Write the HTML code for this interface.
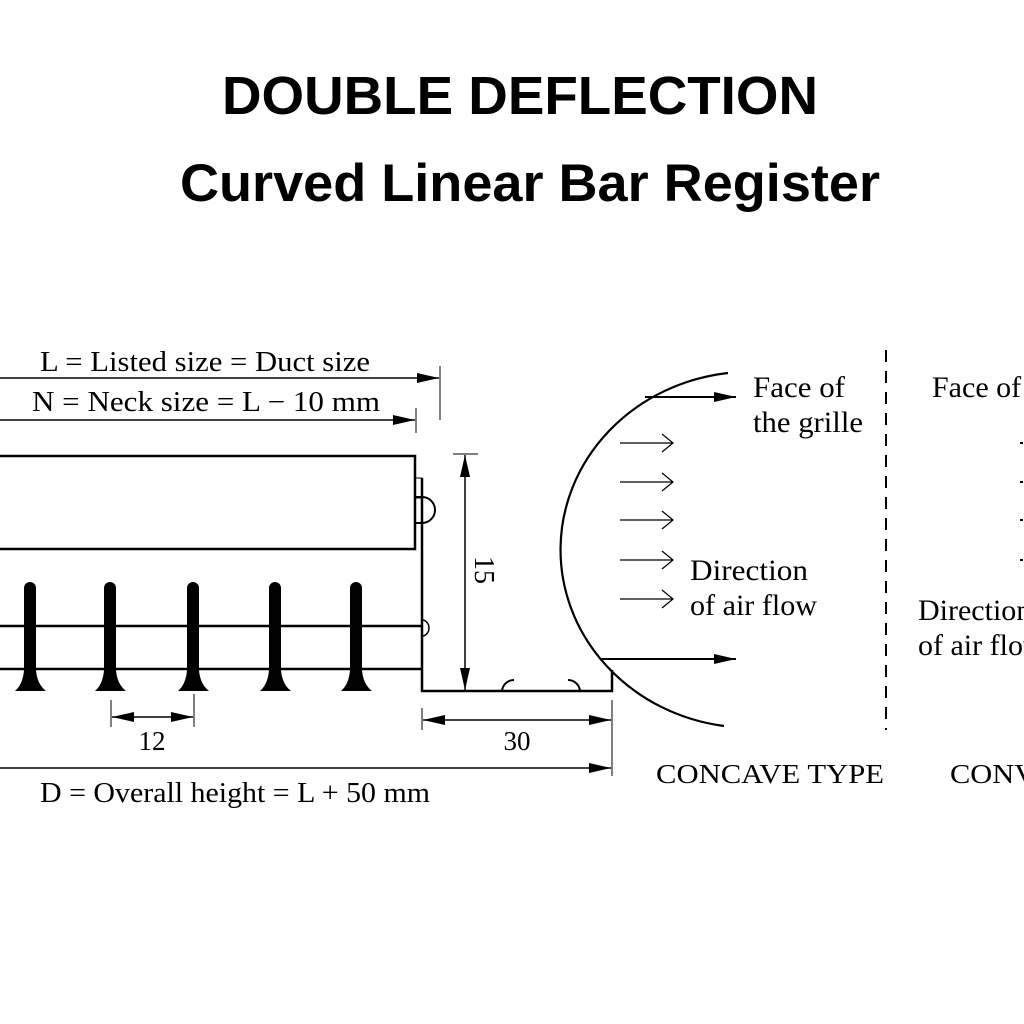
<!DOCTYPE html>
<html><head><meta charset="utf-8"><style>
html,body{margin:0;padding:0;background:#fff;width:1024px;height:1024px;overflow:hidden}
svg{display:block}
.s{font-family:"Liberation Serif",serif;fill:#000}
</style></head><body>
<svg width="1024" height="1024" viewBox="0 0 1024 1024" xmlns="http://www.w3.org/2000/svg">
<defs>
<marker id="a" markerWidth="22" markerHeight="10" refX="22" refY="5" orient="auto" markerUnits="userSpaceOnUse"><path d="M0,0 L22,5 L0,10 Z" fill="#000"/></marker>
<marker id="b" markerWidth="22" markerHeight="10" refX="22" refY="5" orient="auto-start-reverse" markerUnits="userSpaceOnUse"><path d="M0,0 L22,5 L0,10 Z" fill="#000"/></marker>
</defs>
<text x="520" y="114" text-anchor="middle" font-family="Liberation Sans,sans-serif" font-weight="bold" font-size="54" textLength="596" lengthAdjust="spacingAndGlyphs">DOUBLE DEFLECTION</text>
<text x="530" y="201" text-anchor="middle" font-family="Liberation Sans,sans-serif" font-weight="bold" font-size="53" textLength="700" lengthAdjust="spacingAndGlyphs">Curved Linear Bar Register</text>

<g stroke="#000" fill="none">
<line x1="0" y1="378" x2="439" y2="378" stroke-width="1.5" marker-end="url(#a)"/>
<line x1="440" y1="366" x2="440" y2="420" stroke-width="1"/>
<line x1="0" y1="420" x2="415" y2="420" stroke-width="1.5" marker-end="url(#a)"/>
<line x1="416" y1="408" x2="416" y2="433" stroke-width="1"/>
<rect x="-5" y="456" width="420" height="93" stroke-width="2.5"/>
<rect x="415" y="478" width="7" height="20" stroke-width="1"/>
<rect x="415" y="497" width="7" height="26" stroke-width="2"/>
<path d="M422,497 A13,13 0 0 1 422,523" stroke-width="2"/>
<line x1="422" y1="478" x2="422" y2="692" stroke-width="2.5"/>
<line x1="421" y1="691" x2="613" y2="691" stroke-width="2.5"/>
<line x1="612" y1="670" x2="612" y2="692" stroke-width="2.5"/>
<path d="M422,620 A7,8 0 0 1 422,636" stroke-width="1.5"/>
<path d="M502,691 A12,12 0 0 1 514,680" stroke-width="2"/>
<path d="M568,680 A12,12 0 0 1 580,691" stroke-width="2"/>
<line x1="453" y1="454" x2="478" y2="454" stroke-width="1"/>
<line x1="465" y1="455" x2="465" y2="690" stroke-width="1.5" marker-start="url(#b)" marker-end="url(#a)"/>
<line x1="0" y1="626" x2="422" y2="626" stroke-width="2.5"/>
<line x1="0" y1="669" x2="422" y2="669" stroke-width="2.5"/>
<line x1="111" y1="700" x2="111" y2="727" stroke-width="1"/>
<line x1="194" y1="694" x2="194" y2="727" stroke-width="1"/>
<line x1="112" y1="717" x2="193" y2="717" stroke-width="1.5" marker-start="url(#b)" marker-end="url(#a)"/>
<line x1="422" y1="708" x2="422" y2="730" stroke-width="1"/>
<line x1="612" y1="700" x2="612" y2="776" stroke-width="1"/>
<line x1="423" y1="720" x2="611" y2="720" stroke-width="1.5" marker-start="url(#b)" marker-end="url(#a)"/>
<line x1="0" y1="768" x2="611" y2="768" stroke-width="1.5" marker-end="url(#a)"/>
<path d="M728,373 A190,178 0 0 0 724,726" stroke-width="2.2"/>
<line x1="645" y1="397" x2="736" y2="397" stroke-width="2" marker-end="url(#a)"/>
<line x1="600" y1="659" x2="736" y2="659" stroke-width="2" marker-end="url(#a)"/>
<g stroke-width="1.2">
<path d="M620,443 H672 M662,434 L673,443 L662,452"/>
<path d="M620,482 H672 M662,473 L673,482 L662,491"/>
<path d="M620,520 H672 M662,511 L673,520 L662,529"/>
<path d="M620,560 H672 M662,551 L673,560 L662,569"/>
<path d="M620,599 H672 M662,590 L673,599 L662,608"/>
</g>
<line x1="886" y1="350" x2="886" y2="730" stroke-width="2" stroke-dasharray="12,9"/>
</g>
<g fill="#000">
<path d="M24,588 A6,6 0 0 1 36,588 L36,670 Q37,684 46,691 L15,691 Q23,684 24,670 Z"/>
<path d="M104,588 A6,6 0 0 1 116,588 L116,670 Q117,684 126,691 L95,691 Q103,684 104,670 Z"/>
<path d="M187,588 A6,6 0 0 1 199,588 L199,670 Q200,684 209,691 L178,691 Q186,684 187,670 Z"/>
<path d="M269,588 A6,6 0 0 1 281,588 L281,670 Q282,684 291,691 L260,691 Q268,684 269,670 Z"/>
<path d="M350,588 A6,6 0 0 1 362,588 L362,670 Q363,684 372,691 L341,691 Q349,684 350,670 Z"/>
<rect x="1020" y="442" width="3" height="2"/><rect x="1020" y="481" width="3" height="2"/><rect x="1020" y="519" width="3" height="2"/><rect x="1020" y="559" width="3" height="2"/>
</g>
<g class="s">
<text x="40" y="371" font-size="28" textLength="330" lengthAdjust="spacingAndGlyphs">L = Listed size = Duct size</text>
<text x="32" y="411" font-size="28" textLength="348" lengthAdjust="spacingAndGlyphs">N = Neck size = L − 10 mm</text>
<text x="0" y="0" font-size="28" transform="translate(475,556) rotate(90)">15</text>
<text x="152" y="750" font-size="27" text-anchor="middle">12</text>
<text x="517" y="750" font-size="27" text-anchor="middle">30</text>
<text x="40" y="802" font-size="28" textLength="390" lengthAdjust="spacingAndGlyphs">D = Overall height = L + 50 mm</text>
<text x="753" y="397" font-size="30" textLength="92" lengthAdjust="spacingAndGlyphs">Face of</text>
<text x="753" y="432" font-size="30" textLength="110" lengthAdjust="spacingAndGlyphs">the grille</text>
<text x="690" y="580" font-size="30" textLength="118" lengthAdjust="spacingAndGlyphs">Direction</text>
<text x="690" y="615" font-size="30" textLength="127" lengthAdjust="spacingAndGlyphs">of air flow</text>
<text x="656" y="783" font-size="27" textLength="228" lengthAdjust="spacingAndGlyphs">CONCAVE TYPE</text>
<text x="932" y="397" font-size="30">Face of</text>
<text x="918" y="620" font-size="30">Direction</text>
<text x="918" y="655" font-size="30">of air flow</text>
<text x="950" y="783" font-size="27" textLength="210" lengthAdjust="spacingAndGlyphs">CONVEX TYPE</text>
</g>
</svg>
</body></html>
